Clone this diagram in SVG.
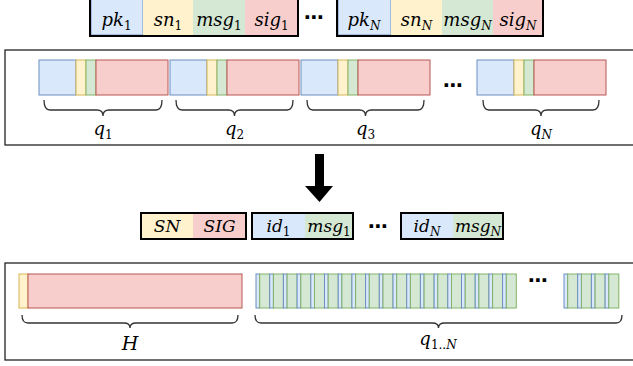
<svg xmlns="http://www.w3.org/2000/svg" width="633" height="366" viewBox="0 0 633 366">
<style>
.b{fill:#dae8fc;stroke:#6c8ebf;stroke-width:1}
.y{fill:#fff2cc;stroke:#d6b656;stroke-width:1}
.g{fill:#d5e8d4;stroke:#82b366;stroke-width:1}
.r{fill:#f8cecc;stroke:#b85450;stroke-width:1}
.bn{fill:#dae8fc}.yn{fill:#fff2cc}.gn{fill:#d5e8d4}.rn{fill:#f8cecc}
.frame{fill:none;stroke:#000;stroke-width:2}
.panel{fill:none;stroke:#222;stroke-width:1.3}
.brace{fill:none;stroke:#333;stroke-width:1.3}
.m{font-family:"DejaVu Serif","Liberation Serif",serif;font-style:italic;fill:#000;text-anchor:middle}
.s{font-size:12px}
.dots{font-family:"DejaVu Sans",sans-serif;font-size:20px;font-weight:bold;fill:#000;text-anchor:middle}
</style>
<defs>
<g id="blk">
<rect class="b" x="0" y="0" width="37" height="35"/>
<rect class="y" x="37" y="0" width="10" height="35"/>
<rect class="g" x="47" y="0" width="10" height="35"/>
<rect class="r" x="57" y="0" width="72" height="35"/>
</g>
<g id="unit">
<rect class="b" x="0" y="0" width="3.7" height="34"/>
<rect class="g" x="3.7" y="0" width="10" height="34"/>
</g>
</defs>
<rect width="633" height="366" fill="#fff"/>

<g id="msg1-top">
<rect class="bn" x="90" y="-2" width="53" height="38"/>
<rect class="b" x="91" y="-1" width="52" height="36"/>
<rect class="yn" x="143" y="-2" width="50" height="38"/>
<rect class="gn" x="193" y="-2" width="52" height="38"/>
<rect class="rn" x="245" y="-2" width="53" height="38"/>
<rect class="frame" x="90" y="-2" width="208" height="38"/>
<text class="m" font-size="18" x="116.5" y="26">pk<tspan class="s" font-style="normal" dy="4">1</tspan></text>
<text class="m" font-size="18" x="168" y="26">sn<tspan class="s" font-style="normal" dy="4">1</tspan></text>
<text class="m" font-size="18" x="219" y="26">msg<tspan class="s" font-style="normal" dy="4">1</tspan></text>
<text class="m" font-size="18" x="271.5" y="26">sig<tspan class="s" font-style="normal" dy="4">1</tspan></text>
</g>
<text class="dots" x="314" y="24">⋯</text>
<g id="msgN-top">
<rect class="bn" x="337" y="-2" width="54" height="38"/>
<rect class="b" x="338" y="-1" width="53" height="36"/>
<rect class="yn" x="391" y="-2" width="51" height="38"/>
<rect class="gn" x="442" y="-2" width="51" height="38"/>
<rect class="rn" x="493" y="-2" width="50" height="38"/>
<rect class="frame" x="337" y="-2" width="206" height="38"/>
<text class="m" font-size="18" x="364" y="26">pk<tspan class="s" dy="4">N</tspan></text>
<text class="m" font-size="18" x="416.5" y="26">sn<tspan class="s" dy="4">N</tspan></text>
<text class="m" font-size="18" x="467.5" y="26">msg<tspan class="s" dy="4">N</tspan></text>
<text class="m" font-size="18" x="518" y="26">sig<tspan class="s" dy="4">N</tspan></text>
</g>

<g id="panel-signed">
<rect class="panel" x="5" y="50" width="640" height="95"/>
<use href="#blk" x="39" y="60"/>
<use href="#blk" x="170" y="60"/>
<use href="#blk" x="301" y="60"/>
<use href="#blk" x="477" y="60"/>
<text class="dots" x="453" y="92">⋯</text>
</g>

<g id="header">
<rect class="yn" x="141" y="213" width="52" height="26"/>
<rect class="rn" x="193" y="213" width="53" height="26"/>
<rect class="frame" x="141" y="213" width="105" height="26"/>
<text class="m" font-size="17" x="167" y="232">SN</text>
<text class="m" font-size="17" x="219.5" y="232">SIG</text>
</g>
<g id="id1">
<rect class="bn" x="252" y="213" width="53" height="26"/>
<rect class="gn" x="305" y="213" width="48" height="26"/>
<rect class="frame" x="252" y="213" width="101" height="26"/>
<text class="m" font-size="17" x="278.5" y="232">id<tspan class="s" font-style="normal" dy="4">1</tspan></text>
<text class="m" font-size="17" x="329" y="232">msg<tspan class="s" font-style="normal" dy="4">1</tspan></text>
</g>
<text class="dots" x="378" y="233">⋯</text>
<g id="idN">
<rect class="bn" x="401" y="213" width="52" height="26"/>
<rect class="gn" x="453" y="213" width="50" height="26"/>
<rect class="frame" x="401" y="213" width="102" height="26"/>
<text class="m" font-size="17" x="427" y="232">id<tspan class="s" dy="4">N</tspan></text>
<text class="m" font-size="17" x="478" y="232">msg<tspan class="s" dy="4">N</tspan></text>
</g>

<g id="panel-aggregated">
<rect class="panel" x="5" y="263" width="640" height="97"/>
<rect class="y" x="19" y="274" width="9" height="34"/>
<rect class="r" x="28" y="274" width="214" height="34"/>
<use href="#unit" x="256" y="274"/>
<use href="#unit" x="269.7" y="274"/>
<use href="#unit" x="283.4" y="274"/>
<use href="#unit" x="297.1" y="274"/>
<use href="#unit" x="310.8" y="274"/>
<use href="#unit" x="324.5" y="274"/>
<use href="#unit" x="338.2" y="274"/>
<use href="#unit" x="351.9" y="274"/>
<use href="#unit" x="365.6" y="274"/>
<use href="#unit" x="379.3" y="274"/>
<use href="#unit" x="393" y="274"/>
<use href="#unit" x="406.7" y="274"/>
<use href="#unit" x="420.4" y="274"/>
<use href="#unit" x="434.1" y="274"/>
<use href="#unit" x="447.8" y="274"/>
<use href="#unit" x="461.5" y="274"/>
<use href="#unit" x="475.2" y="274"/>
<use href="#unit" x="488.9" y="274"/>
<use href="#unit" x="502.6" y="274"/>
<text class="dots" x="538" y="287">⋯</text>
<use href="#unit" x="564" y="274"/>
<use href="#unit" x="577.7" y="274"/>
<use href="#unit" x="591.4" y="274"/>
<use href="#unit" x="605.1" y="274"/>
</g>

<g id="connectors">
<path class="brace" d="M44,100 Q44,110 50,110 L97,110 Q103,110 103,116 Q103,110 109,110 L156,110 Q162,110 162,100"/>
<path class="brace" d="M176,100 Q176,110 182,110 L228.5,110 Q234.5,110 234.5,116 Q234.5,110 240.5,110 L287,110 Q293,110 293,100"/>
<path class="brace" d="M307,100 Q307,110 313,110 L359.5,110 Q365.5,110 365.5,116 Q365.5,110 371.5,110 L418,110 Q424,110 424,100"/>
<path class="brace" d="M483,100 Q483,110 489,110 L535,110 Q541,110 541,116 Q541,110 547,110 L593,110 Q599,110 599,100"/>
<path d="M315,154 H324 V186 H333 L319.5,202 L305,186 H315 Z" fill="#000"/>
<path class="brace" d="M22,315 Q22,323 28,323 L124,323 Q130,323 130,328 Q130,323 136,323 L232,323 Q238,323 238,315"/>
<path class="brace" d="M255,315 Q255,323 261,323 L432.5,323 Q438.5,323 438.5,328 Q438.5,323 444.5,323 L616,323 Q622,323 622,315"/>
</g>
<g id="labels">
<text class="m" font-size="18" x="103" y="135">q<tspan class="s" font-style="normal" dy="4">1</tspan></text>
<text class="m" font-size="18" x="234.5" y="135">q<tspan class="s" font-style="normal" dy="4">2</tspan></text>
<text class="m" font-size="18" x="365.5" y="135">q<tspan class="s" font-style="normal" dy="4">3</tspan></text>
<text class="m" font-size="18" x="541" y="135">q<tspan class="s" dy="4">N</tspan></text>
<text class="m" font-size="19" x="130" y="350">H</text>
<text class="m" font-size="18" x="438" y="345">q<tspan class="s" font-style="normal" dy="4">1..</tspan><tspan class="s">N</tspan></text>
</g>
</svg>
